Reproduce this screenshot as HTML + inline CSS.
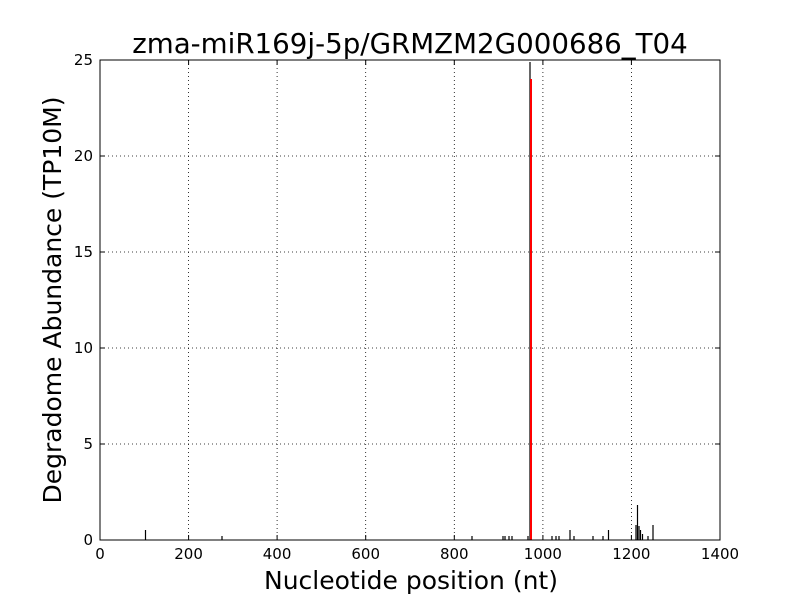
<!DOCTYPE html>
<html><head><meta charset="utf-8"><style>body{margin:0;background:#fff}svg{display:block}</style></head><body>
<svg width="800" height="600" xmlns="http://www.w3.org/2000/svg" font-family="DejaVu Sans, Liberation Sans, sans-serif">
<rect width="800" height="600" fill="#fff"/>
<g stroke="#000" stroke-width="0.8" stroke-dasharray="1,3">
<line x1="188.6" y1="60" x2="188.6" y2="540"/><line x1="277.1" y1="60" x2="277.1" y2="540"/><line x1="365.7" y1="60" x2="365.7" y2="540"/><line x1="454.3" y1="60" x2="454.3" y2="540"/><line x1="542.9" y1="60" x2="542.9" y2="540"/><line x1="631.4" y1="60" x2="631.4" y2="540"/>
<line x1="100" y1="444" x2="720" y2="444"/><line x1="100" y1="348" x2="720" y2="348"/><line x1="100" y1="252" x2="720" y2="252"/><line x1="100" y1="156" x2="720" y2="156"/>
</g>
<g stroke="#000" stroke-width="1.2">
<line x1="145.5" y1="540" x2="145.5" y2="530"/><line x1="222" y1="540" x2="222" y2="536"/>
<line x1="472" y1="540" x2="472" y2="536"/><line x1="503" y1="540" x2="503" y2="536"/><line x1="505" y1="540" x2="505" y2="536"/><line x1="509" y1="540" x2="509" y2="536"/><line x1="512" y1="540" x2="512" y2="536"/><line x1="528" y1="540" x2="528" y2="536"/>
<line x1="530" y1="540" x2="530" y2="62"/>
<line x1="552" y1="540" x2="552" y2="536"/><line x1="556" y1="540" x2="556" y2="536"/><line x1="559" y1="540" x2="559" y2="536"/><line x1="570" y1="540" x2="570" y2="530"/><line x1="574" y1="540" x2="574" y2="536"/><line x1="593" y1="540" x2="593" y2="536"/><line x1="603" y1="540" x2="603" y2="536"/><line x1="608.5" y1="540" x2="608.5" y2="530"/>
<line x1="636" y1="540" x2="636" y2="525"/><line x1="637.5" y1="540" x2="637.5" y2="505"/><line x1="639" y1="540" x2="639" y2="526"/><line x1="640.5" y1="540" x2="640.5" y2="530"/><line x1="642.5" y1="540" x2="642.5" y2="534"/><line x1="648" y1="540" x2="648" y2="536"/><line x1="653" y1="540" x2="653" y2="525"/>
</g>
<line x1="531" y1="540" x2="531" y2="79" stroke="#f00" stroke-width="2"/>
<rect x="100" y="60" width="620" height="480" fill="none" stroke="#000" stroke-width="1"/>
<g stroke="#000" stroke-width="1">
<line x1="188.6" y1="540" x2="188.6" y2="535"/><line x1="277.1" y1="540" x2="277.1" y2="535"/><line x1="365.7" y1="540" x2="365.7" y2="535"/><line x1="454.3" y1="540" x2="454.3" y2="535"/><line x1="542.9" y1="540" x2="542.9" y2="535"/><line x1="631.4" y1="540" x2="631.4" y2="535"/>
<line x1="188.6" y1="60" x2="188.6" y2="65"/><line x1="277.1" y1="60" x2="277.1" y2="65"/><line x1="365.7" y1="60" x2="365.7" y2="65"/><line x1="454.3" y1="60" x2="454.3" y2="65"/><line x1="542.9" y1="60" x2="542.9" y2="65"/><line x1="631.4" y1="60" x2="631.4" y2="65"/>
<line x1="100" y1="444" x2="105" y2="444"/><line x1="100" y1="348" x2="105" y2="348"/><line x1="100" y1="252" x2="105" y2="252"/><line x1="100" y1="156" x2="105" y2="156"/>
<line x1="720" y1="444" x2="715" y2="444"/><line x1="720" y1="348" x2="715" y2="348"/><line x1="720" y1="252" x2="715" y2="252"/><line x1="720" y1="156" x2="715" y2="156"/>
</g>
<g font-size="15" text-anchor="middle">
<text x="100" y="559">0</text><text x="188.6" y="559">200</text><text x="277.1" y="559">400</text><text x="365.7" y="559">600</text><text x="454.3" y="559">800</text><text x="542.9" y="559">1000</text><text x="631.4" y="559">1200</text><text x="720" y="559">1400</text>
</g>
<g font-size="15" text-anchor="end">
<text x="93" y="545">0</text><text x="93" y="449">5</text><text x="93" y="353">10</text><text x="93" y="257">15</text><text x="93" y="161">20</text><text x="93" y="65">25</text>
</g>
<text x="411" y="589" font-size="25" text-anchor="middle">Nucleotide position (nt)</text>
<text transform="translate(61,300) rotate(-90)" font-size="25" text-anchor="middle">Degradome Abundance (TP10M)</text>
<text x="410" y="53" font-size="27.7" text-anchor="middle">zma-miR169j-5p/GRMZM2G000686_T04</text>
</svg>
</body></html>
